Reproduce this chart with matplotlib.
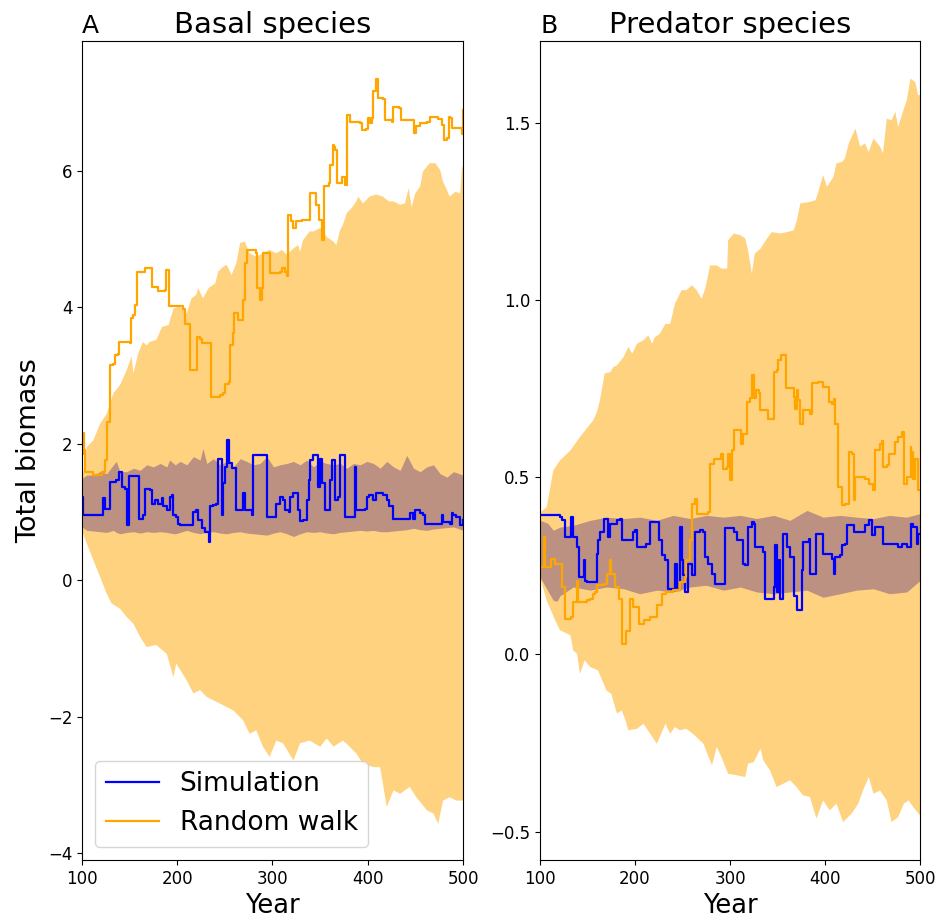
import matplotlib
matplotlib.use('Agg')
from matplotlib import pyplot as plt

# ---- panel A : basal species ----
basal_sim_years = [100, 101, 121, 122, 124, 128, 129, 136, 139, 142, 145, 147, 149, 159, 160, 164, 166, 171, 173,
                   177, 180, 184, 185, 189, 192, 194, 196, 199, 201, 203, 212, 217, 220, 222, 226, 229, 233, 234,
                   238, 241, 243, 247, 248, 250, 252, 254, 257, 261, 262, 266, 269, 271, 278, 280, 292, 294, 301,
                   304, 308, 311, 313, 317, 318, 322, 327, 329, 332, 336, 338, 339, 343, 346, 348, 350, 352, 355,
                   359, 360, 362, 366, 369, 371, 374, 376, 383, 387, 388, 397, 399, 401, 406, 409, 416, 420, 422,
                   427, 441, 444, 448, 450, 455, 458, 460, 476, 478, 479, 486, 488, 490, 493, 497, 500]
basal_sim = [1.22, 0.95, 0.95, 1.20, 1.05, 1.05, 1.44, 1.47, 1.59, 1.37, 1.34, 0.81, 1.52, 1.52, 0.90, 0.95, 1.34,
             1.32, 1.12, 1.17, 1.12, 1.20, 1.08, 1.03, 1.22, 1.25, 0.95, 0.93, 0.83, 0.81, 0.81, 1.00, 1.03, 0.88,
             0.76, 0.71, 0.56, 1.08, 1.10, 1.12, 1.78, 0.95, 1.42, 1.66, 2.05, 1.71, 1.64, 1.64, 1.03, 1.03, 1.27,
             1.03, 0.95, 1.83, 1.83, 0.93, 0.93, 1.12, 1.22, 1.17, 1.03, 1.00, 1.22, 1.27, 1.03, 0.86, 0.88, 1.17,
             1.47, 1.76, 1.83, 1.83, 1.37, 1.78, 1.42, 1.03, 1.03, 1.47, 1.76, 1.17, 1.22, 1.83, 1.83, 0.93, 0.93,
             1.66, 1.03, 1.05, 1.22, 1.25, 1.17, 1.27, 1.25, 1.17, 1.08, 0.90, 0.90, 0.98, 0.90, 1.03, 0.98, 0.95,
             0.83, 0.83, 0.95, 0.85, 0.83, 0.98, 0.95, 0.93, 0.81, 0.88]

basal_rw_years = [100, 101, 102, 103, 112, 121, 123, 124, 126, 129, 133, 135, 138, 139, 150, 151, 154, 156, 158,
                  166, 172, 173, 178, 180, 187, 188, 190, 191, 201, 206, 208, 212, 213, 220, 221, 224, 226, 234,
                  235, 245, 248, 250, 254, 255, 259, 260, 264, 268, 269, 271, 273, 280, 283, 284, 287, 289, 290,
                  296, 297, 308, 310, 313, 315, 316, 319, 322, 325, 331, 338, 339, 345, 346, 349, 352, 353, 354,
                  359, 360, 363, 365, 366, 368, 371, 373, 376, 378, 381, 392, 394, 398, 400, 402, 404, 406, 408,
                  409, 411, 416, 418, 425, 426, 433, 435, 446, 449, 451, 455, 462, 465, 474, 478, 480, 483, 485,
                  486, 488, 497, 499, 500]
basal_rw = [1.85, 2.15, 1.90, 1.59, 1.54, 1.59, 1.59, 1.76, 2.32, 3.15, 3.17, 3.30, 3.32, 3.49, 3.47, 3.84, 3.89,
            4.03, 4.52, 4.57, 4.57, 4.30, 4.30, 4.23, 4.25, 4.55, 4.55, 4.01, 4.01, 3.98, 3.76, 3.76, 3.08, 3.08,
            3.57, 3.54, 3.47, 3.47, 2.69, 2.71, 2.74, 2.88, 2.91, 3.44, 3.62, 3.91, 3.81, 3.81, 4.11, 4.64, 4.84,
            4.84, 4.79, 4.28, 4.11, 4.28, 4.79, 4.79, 4.50, 4.52, 4.57, 4.52, 4.45, 5.35, 5.26, 5.16, 5.26, 5.28,
            5.28, 5.67, 5.67, 5.50, 5.28, 4.99, 4.99, 5.77, 5.82, 6.09, 6.38, 6.35, 6.30, 5.82, 5.82, 5.91, 5.79,
            6.82, 6.72, 6.70, 6.60, 6.61, 6.77, 6.70, 6.77, 7.16, 7.16, 7.34, 7.06, 7.05, 6.74, 6.72, 6.94, 6.92,
            6.74, 6.74, 6.55, 6.65, 6.70, 6.72, 6.78, 6.76, 6.67, 6.45, 6.48, 6.78, 6.77, 6.62, 6.62, 6.53, 6.89]

basal_rw_hi_years = [100, 102, 105, 112, 119, 126, 133, 140, 147, 152, 154, 159, 164, 168, 171, 178, 184, 191, 196,
                     203, 210, 215, 220, 222, 227, 233, 240, 243, 248, 252, 257, 262, 266, 271, 276, 283, 290, 297,
                     304, 310, 315, 322, 327, 329, 332, 339, 343, 350, 357, 364, 367, 371, 374, 378, 383, 388, 390,
                     395, 402, 409, 416, 422, 427, 434, 439, 443, 446, 450, 455, 458, 465, 471, 476, 479, 483, 486,
                     492, 497, 499, 500]
basal_rw_hi = [1.50, 1.62, 1.95, 2.05, 2.29, 2.44, 2.74, 2.86, 3.08, 3.28, 3.03, 3.32, 3.49, 3.44, 3.49, 3.52, 3.71,
               3.74, 3.98, 4.01, 3.91, 4.13, 4.18, 4.28, 4.13, 4.28, 4.35, 4.52, 4.59, 4.62, 4.47, 4.64, 4.94, 4.96,
               4.79, 4.74, 4.79, 4.84, 4.79, 4.84, 4.77, 4.86, 4.91, 4.81, 4.98, 5.11, 5.11, 5.16, 5.03, 4.96, 4.91,
               5.13, 5.21, 5.38, 5.45, 5.55, 5.62, 5.52, 5.62, 5.65, 5.62, 5.55, 5.55, 5.50, 5.52, 5.74, 5.47, 5.67,
               5.77, 5.99, 6.11, 6.11, 6.01, 5.84, 5.72, 5.62, 5.69, 5.67, 6.06, 6.06]

basal_rw_lo_years = [100, 105, 112, 119, 126, 131, 140, 147, 154, 161, 168, 178, 189, 196, 199, 210, 217, 224, 231,
                     238, 248, 259, 269, 276, 283, 290, 297, 304, 311, 322, 329, 339, 350, 357, 364, 374, 381, 388,
                     395, 406, 413, 420, 427, 434, 444, 451, 462, 469, 474, 479, 486, 493, 500]
basal_rw_lo = [0.73, 0.54, 0.29, 0.05, -0.20, -0.34, -0.42, -0.54, -0.64, -0.83, -0.98, -0.95, -1.08, -1.42, -1.22,
               -1.47, -1.66, -1.61, -1.71, -1.76, -1.83, -1.91, -2.05, -2.25, -2.20, -2.44, -2.59, -2.35, -2.39,
               -2.64, -2.39, -2.35, -2.44, -2.32, -2.44, -2.35, -2.44, -2.54, -2.69, -2.74, -2.74, -3.32, -3.08,
               -3.13, -3.03, -3.18, -3.37, -3.42, -3.57, -3.23, -3.18, -3.23, -3.23]

basal_sim_band_years = [100, 105, 112, 119, 126, 133, 136, 140, 147, 154, 161, 168, 175, 182, 189, 192, 198, 203,
                        210, 217, 224, 227, 231, 238, 245, 252, 259, 266, 273, 280, 287, 294, 301, 308, 315, 322,
                        329, 336, 343, 350, 357, 364, 371, 378, 385, 392, 399, 406, 413, 420, 427, 434, 441, 448,
                        455, 462, 469, 476, 483, 490, 500]
basal_sim_hi = [1.49, 1.54, 1.54, 1.59, 1.56, 1.69, 1.74, 1.59, 1.59, 1.64, 1.61, 1.69, 1.66, 1.71, 1.66, 1.76,
                1.69, 1.74, 1.69, 1.81, 1.76, 1.93, 1.71, 1.78, 1.69, 1.74, 1.66, 1.78, 1.74, 1.69, 1.71, 1.81,
                1.66, 1.69, 1.71, 1.74, 1.69, 1.76, 1.66, 1.74, 1.71, 1.69, 1.71, 1.64, 1.71, 1.69, 1.74, 1.71,
                1.64, 1.74, 1.66, 1.61, 1.83, 1.64, 1.59, 1.66, 1.69, 1.56, 1.51, 1.59, 1.54]
basal_sim_lo = [0.78, 0.73, 0.72, 0.71, 0.70, 0.73, 0.70, 0.68, 0.70, 0.71, 0.69, 0.71, 0.70, 0.71, 0.70, 0.69,
                0.68, 0.70, 0.73, 0.70, 0.68, 0.69, 0.70, 0.71, 0.69, 0.68, 0.70, 0.71, 0.69, 0.68, 0.67, 0.66,
                0.69, 0.71, 0.68, 0.64, 0.68, 0.71, 0.70, 0.71, 0.69, 0.68, 0.70, 0.71, 0.72, 0.73, 0.72, 0.73,
                0.71, 0.71, 0.72, 0.73, 0.74, 0.76, 0.74, 0.73, 0.75, 0.76, 0.77, 0.78, 0.73]

# ---- panel B : predator species ----
pred_sim_years = [100, 107, 121, 123, 126, 130, 133, 135, 137, 139, 141, 144, 146, 147, 149, 158, 160, 161, 163,
                  167, 170, 172, 174, 181, 184, 186, 195, 198, 200, 202, 212, 216, 221, 225, 228, 232, 235, 240,
                  242, 244, 247, 249, 251, 253, 254, 256, 260, 263, 268, 272, 274, 277, 281, 284, 291, 295, 300,
                  304, 307, 312, 314, 316, 319, 323, 325, 326, 335, 337, 344, 346, 347, 349, 352, 353, 356, 360,
                  363, 367, 370, 374, 376, 377, 383, 384, 388, 390, 391, 397, 398, 407, 409, 411, 416, 418, 421,
                  423, 428, 430, 439, 442, 446, 449, 453, 456, 461, 474, 477, 481, 486, 490, 493, 497, 498, 500]
pred_sim = [0.392, 0.392, 0.387, 0.378, 0.331, 0.331, 0.387, 0.331, 0.331, 0.303, 0.218, 0.218, 0.265, 0.208,
            0.204, 0.204, 0.284, 0.322, 0.345, 0.383, 0.383, 0.331, 0.369, 0.378, 0.383, 0.322, 0.322, 0.345,
            0.350, 0.303, 0.312, 0.373, 0.373, 0.322, 0.279, 0.265, 0.185, 0.181, 0.256, 0.181, 0.359, 0.265,
            0.223, 0.176, 0.176, 0.256, 0.223, 0.345, 0.350, 0.345, 0.275, 0.256, 0.227, 0.199, 0.199, 0.355,
            0.355, 0.345, 0.322, 0.322, 0.256, 0.251, 0.359, 0.373, 0.369, 0.303, 0.289, 0.157, 0.157, 0.190,
            0.308, 0.176, 0.265, 0.157, 0.340, 0.303, 0.275, 0.166, 0.124, 0.124, 0.237, 0.317, 0.326, 0.227,
            0.227, 0.331, 0.340, 0.340, 0.284, 0.270, 0.227, 0.275, 0.279, 0.308, 0.312, 0.364, 0.364, 0.345,
            0.345, 0.364, 0.378, 0.336, 0.359, 0.359, 0.312, 0.312, 0.303, 0.312, 0.303, 0.369, 0.359, 0.312,
            0.340, 0.340]

pred_rw_years = [100, 102, 104, 105, 112, 116, 123, 126, 133, 135, 139, 140, 149, 153, 156, 158, 160, 167, 170,
                 174, 175, 179, 183, 186, 190, 193, 195, 198, 204, 209, 216, 223, 228, 233, 240, 247, 253, 254,
                 258, 260, 263, 265, 277, 279, 283, 291, 293, 297, 298, 300, 302, 304, 311, 312, 314, 318, 321,
                 323, 325, 327, 330, 332, 340, 344, 346, 349, 351, 354, 358, 359, 367, 368, 370, 372, 374, 377,
                 384, 386, 393, 398, 402, 404, 407, 409, 411, 414, 418, 421, 425, 428, 430, 432, 442, 446, 451,
                 453, 458, 460, 461, 465, 467, 474, 477, 481, 483, 486, 490, 491, 493, 495, 498, 500]
pred_rw = [0.246, 0.246, 0.331, 0.246, 0.270, 0.256, 0.190, 0.100, 0.105, 0.147, 0.208, 0.147, 0.152, 0.157,
           0.171, 0.176, 0.195, 0.199, 0.227, 0.265, 0.227, 0.190, 0.157, 0.030, 0.067, 0.067, 0.157, 0.133,
           0.086, 0.096, 0.105, 0.138, 0.171, 0.176, 0.181, 0.204, 0.218, 0.265, 0.322, 0.425, 0.439, 0.397,
           0.402, 0.538, 0.552, 0.566, 0.524, 0.528, 0.566, 0.491, 0.575, 0.632, 0.632, 0.594, 0.622, 0.712,
           0.722, 0.787, 0.722, 0.745, 0.736, 0.688, 0.665, 0.665, 0.796, 0.801, 0.829, 0.843, 0.843, 0.750,
           0.726, 0.693, 0.745, 0.717, 0.650, 0.688, 0.679, 0.764, 0.768, 0.754, 0.754, 0.712, 0.707, 0.721,
           0.650, 0.472, 0.420, 0.425, 0.571, 0.566, 0.434, 0.500, 0.496, 0.481, 0.463, 0.575, 0.594, 0.603,
           0.528, 0.533, 0.566, 0.599, 0.613, 0.627, 0.481, 0.500, 0.585, 0.571, 0.496, 0.552, 0.463, 0.463]

pred_rw_hi_years = [100, 107, 114, 121, 132, 142, 153, 156, 160, 163, 165, 168, 174, 177, 181, 188, 193, 197, 202,
                    209, 214, 218, 221, 226, 232, 237, 242, 249, 254, 260, 265, 270, 274, 279, 286, 291, 297, 298,
                    304, 311, 316, 319, 323, 326, 332, 339, 344, 353, 360, 367, 370, 374, 384, 390, 393, 398, 402,
                    409, 412, 418, 421, 425, 432, 437, 442, 446, 451, 458, 461, 465, 470, 474, 477, 483, 486, 490,
                    495, 498, 500]
pred_rw_hi = [0.40, 0.415, 0.519, 0.547, 0.575, 0.613, 0.650, 0.660, 0.684, 0.716, 0.745, 0.792, 0.796, 0.810,
              0.815, 0.839, 0.867, 0.848, 0.876, 0.886, 0.900, 0.876, 0.895, 0.904, 0.932, 0.932, 0.989, 1.027,
              1.027, 1.041, 1.027, 1.003, 1.032, 1.097, 1.097, 1.088, 1.088, 1.168, 1.187, 1.182, 1.173, 1.140,
              1.074, 1.130, 1.144, 1.173, 1.191, 1.187, 1.191, 1.196, 1.220, 1.272, 1.276, 1.281, 1.305, 1.352,
              1.319, 1.347, 1.385, 1.389, 1.399, 1.441, 1.483, 1.432, 1.441, 1.417, 1.455, 1.432, 1.413, 1.511,
              1.506, 1.530, 1.487, 1.539, 1.563, 1.624, 1.614, 1.577, 1.577]

pred_rw_lo_years = [100, 107, 116, 121, 132, 135, 139, 142, 147, 153, 161, 167, 170, 175, 181, 186, 190, 193, 202,
                    209, 216, 223, 232, 237, 242, 247, 254, 261, 272, 281, 286, 291, 298, 307, 316, 319, 325, 332,
                    335, 342, 349, 356, 363, 370, 377, 384, 391, 398, 405, 412, 419, 428, 435, 440, 446, 451, 458,
                    465, 470, 477, 483, 488, 493, 500]
pred_rw_lo = [0.218, 0.152, 0.096, 0.068, 0.054, 0.011, 0.002, -0.055, -0.017, -0.036, -0.045, -0.083, -0.102,
              -0.111, -0.167, -0.158, -0.186, -0.214, -0.210, -0.196, -0.224, -0.252, -0.196, -0.224, -0.205,
              -0.214, -0.210, -0.224, -0.252, -0.313, -0.261, -0.290, -0.337, -0.341, -0.346, -0.308, -0.304,
              -0.266, -0.299, -0.327, -0.374, -0.365, -0.355, -0.374, -0.398, -0.402, -0.463, -0.412, -0.440,
              -0.421, -0.473, -0.449, -0.421, -0.384, -0.346, -0.393, -0.384, -0.412, -0.473, -0.459, -0.421,
              -0.412, -0.431, -0.454]

pred_sim_band_years = [100, 108, 114, 118, 121, 135, 153, 170, 188, 205, 223, 240, 258, 275, 293, 311, 328, 346,
                       363, 381, 398, 416, 433, 451, 468, 486, 500]
pred_sim_hi = [0.378, 0.370, 0.350, 0.355, 0.359, 0.364, 0.378, 0.387, 0.383, 0.387, 0.378, 0.392, 0.383, 0.392,
               0.387, 0.392, 0.383, 0.392, 0.378, 0.406, 0.387, 0.392, 0.387, 0.383, 0.392, 0.387, 0.397]
pred_sim_lo = [0.218, 0.180, 0.152, 0.150, 0.165, 0.190, 0.181, 0.190, 0.185, 0.171, 0.181, 0.176, 0.190, 0.195,
               0.181, 0.190, 0.176, 0.171, 0.176, 0.181, 0.161, 0.171, 0.181, 0.185, 0.171, 0.176, 0.208]

band_orange = '#ffd280'
band_brown = '#bc9181'


def draw_panel(ax, rw_hi_x, rw_hi, rw_lo_x, rw_lo, band_x, sim_lo, sim_hi, sim_x, sim, rw_x, rw, labels):
    # random walk envelope as one polygon (upper edge then lower edge backwards)
    ax.fill(list(rw_hi_x) + list(rw_lo_x[::-1]), list(rw_hi) + list(rw_lo[::-1]),
            color=band_orange, lw=0)
    ax.fill_between(band_x, sim_lo, sim_hi, color=band_brown, lw=0)
    ax.plot(sim_x, sim, color='blue', lw=1.6, drawstyle='steps-post',
            label='Simulation' if labels else None)
    ax.plot(rw_x, rw, color='orange', lw=1.6, drawstyle='steps-post',
            label='Random walk' if labels else None)
    ax.set_xlim(100, 500)
    ax.set_xticks([100, 200, 300, 400, 500])
    ax.tick_params(labelsize=12)
    ax.set_xlabel('Year', fontsize=18.5)


fig = plt.figure(figsize=(9.39, 9.19), dpi=100)
ax1 = fig.add_axes([0.0873, 0.0642, 0.4058, 0.8912])
ax2 = fig.add_axes([0.5751, 0.0642, 0.4047, 0.8912])

draw_panel(ax1, basal_rw_hi_years, basal_rw_hi, basal_rw_lo_years, basal_rw_lo,
           basal_sim_band_years, basal_sim_lo, basal_sim_hi,
           basal_sim_years, basal_sim, basal_rw_years, basal_rw, True)
ax1.set_ylim(-4.1, 7.9)
ax1.set_yticks([-4, -2, 0, 2, 4, 6])
ax1.set_title('Basal species', fontsize=21)
ax1.set_title('A', loc='left', fontsize=18)
ax1.set_ylabel('Total biomass', fontsize=19.5)
ax1.legend(loc='lower left', fontsize=19)

draw_panel(ax2, pred_rw_hi_years, pred_rw_hi, pred_rw_lo_years, pred_rw_lo,
           pred_sim_band_years, pred_sim_lo, pred_sim_hi,
           pred_sim_years, pred_sim, pred_rw_years, pred_rw, False)
ax2.set_ylim(-0.58, 1.73)
ax2.set_yticks([-0.5, 0.0, 0.5, 1.0, 1.5])
ax2.set_title('Predator species', fontsize=21)
ax2.set_title('B', loc='left', fontsize=18)

fig.savefig('out.png', dpi=100)
